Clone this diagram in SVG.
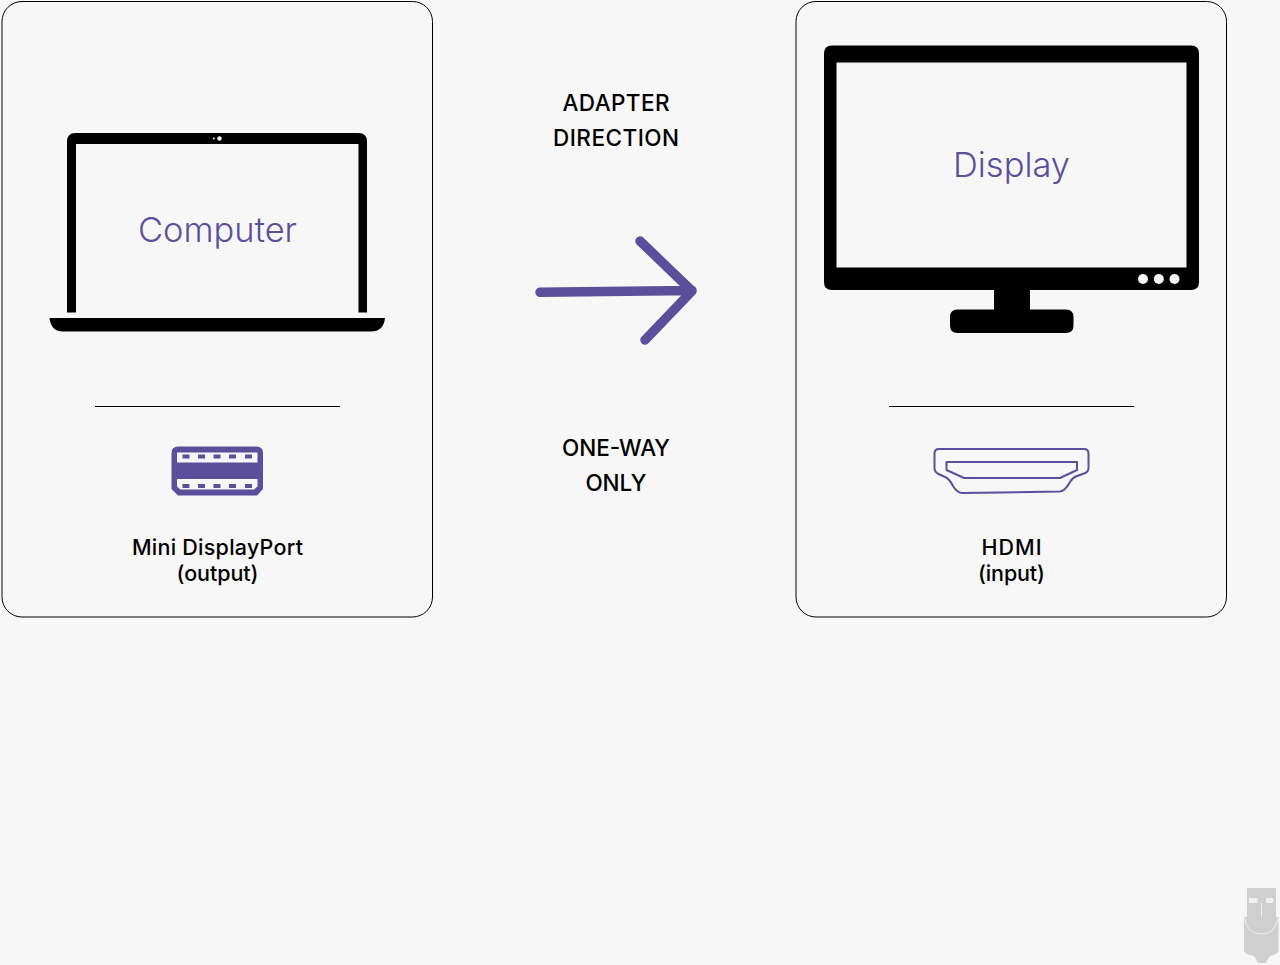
<svg xmlns="http://www.w3.org/2000/svg" width="1280" height="965" viewBox="0 0 1280 965">
<style>
.card{fill:#f7f7f7;stroke:#000;stroke-width:1}
.rule{stroke:#000;stroke-width:1;fill:none}
text{font-family:"Inter","Liberation Sans",sans-serif;text-anchor:middle}
.big{font-size:34.500px;fill:#5b4f9b;font-weight:300}
.lab{font-size:21.500px;fill:#000;font-weight:500}
.cap{font-size:22.500px}
.k{fill:#000}
.v{fill:#5b4f9b}
.w{fill:#f7f7f7}
.o{fill:none;stroke:#5b4f9b;stroke-width:2;stroke-linejoin:round}
</style>
<rect width="1280" height="965" fill="#f7f7f7"/>
<g id="computer">
<rect class="card" x="2" y="1.500" width="430.500" height="615.500" rx="20"/>
<path class="k" d="M67 312.500V141.500Q67 133 75.500 133H358.500Q367 133 367 141.500V312.500H358.500V144H76V312.500Z"/>
<circle class="w" cx="219.500" cy="138.500" r="2.200"/>
<circle class="w" cx="213.800" cy="138.500" r="1"/>
<path class="k" d="M49.500 318H385Q383.500 331.500 371 331.500H63Q51 331.500 49.500 318Z"/>
<text class="big" x="217.500" y="242" textLength="159">Computer</text>
<path class="rule" d="M95 406.500H340"/>
<path class="v" d="M178 446.500H256.500Q263 446.500 263 453V489L257 495.500H178L171.500 489V453Q171.500 446.500 178 446.500Z"/>
<path class="w" d="M177 452.500H257.500V462.500H177ZM177 479H257.500V486.500L254 489.500H180.500L177 486.500Z"/>
<g class="v"><rect x="182.500" y="454.500" width="7" height="4"/><rect x="198" y="454.500" width="7" height="4"/><rect x="213.500" y="454.500" width="7" height="4"/><rect x="229" y="454.500" width="7" height="4"/><rect x="245" y="454.500" width="7" height="4"/><rect x="182.500" y="484" width="7" height="4"/><rect x="198" y="484" width="7" height="4"/><rect x="213.500" y="484" width="7" height="4"/><rect x="229" y="484" width="7" height="4"/><rect x="245" y="484" width="7" height="4"/></g>
<text class="lab" x="217.500" y="554.500" textLength="171">Mini DisplayPort</text>
<text class="lab" x="217.500" y="580.500" textLength="82">(output)</text>
</g>
<g id="display">
<rect class="card" x="796" y="1.500" width="430.500" height="615.500" rx="20"/>
<path class="k" fill-rule="evenodd" d="M832 45.500H1191Q1199 45.500 1199 53.500V282Q1199 290 1191 290H1030V309.500H1066Q1073.500 309.500 1073.500 317V325.500Q1073.500 333 1066 333H957.500Q950 333 950 325.500V317Q950 309.500 957.500 309.500H994V290H832Q824 290 824 282V53.500Q824 45.500 832 45.500ZM836.500 62.500V267.500H1186.500V62.500Z"/>
<circle class="w" cx="1143" cy="279" r="5"/><circle class="w" cx="1158.800" cy="279" r="5"/><circle class="w" cx="1174.500" cy="279" r="5"/>
<text class="big" x="1011.500" y="177" textLength="117">Display</text>
<path class="rule" d="M889 406.500H1134"/>
<path class="o" d="M939 449H1084Q1088.500 449 1088.500 453.500V468Q1088.500 472 1084 473.500L1077 476Q1072.500 477.500 1070 482Q1065 491 1060 491.500L962 493Q957 492.500 953 486Q949.500 478.500 944 476.500L938.500 474Q934.500 472 934.500 468V453.500Q934.500 449 939 449Z"/>
<path class="o" d="M946.500 462H1077V470L1060 478H964L946.500 470Z"/>
<text class="lab" x="1011.500" y="554.500" textLength="60">HDMI</text>
<text class="lab" x="1011.500" y="580.500" textLength="67">(input)</text>
</g>
<g id="connectors">
<path d="M540 292.300L692 290.500M640 241L692 291L645 340" fill="none" stroke="#5b4f9b" stroke-width="9.500" stroke-linecap="round" stroke-linejoin="round"/>
</g>
<g id="labels">
<text class="lab cap" x="616" y="110.500" textLength="107">ADAPTER</text>
<text class="lab cap" x="616" y="145.500" textLength="126">DIRECTION</text>
<text class="lab cap" x="616" y="455.500" textLength="108">ONE-WAY</text>
<text class="lab cap" x="616" y="491" textLength="61">ONLY</text>
</g>
<g id="watermark">
<path fill="#cfcfcf" d="M1247 888H1276V917H1278.500V950Q1278.500 954 1270 956L1265.500 963H1258L1254 956Q1244 954 1244 950V917H1247Z"/>
<path fill="#f0f0f0" d="M1249 898H1257.500V903H1249ZM1266 898H1273.500V903H1266Z"/>
<path fill="none" stroke="#f0f0f0" stroke-width="1" d="M1261.500 903V917M1244.500 918Q1247 934 1261.500 934Q1276 934 1278 918"/>
</g>
</svg>
